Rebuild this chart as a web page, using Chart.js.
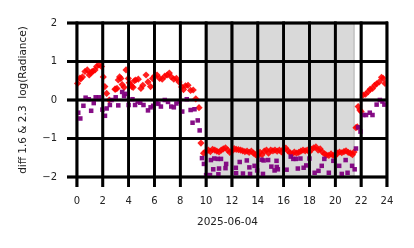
<!DOCTYPE html>
<html>
<head>
<meta charset="utf-8">
<script src="https://cdn.jsdelivr.net/npm/chart.js@4"></script>
<style>
  html, body { margin: 0; padding: 0; background: #fff; }
  #wrap { width: 414px; height: 248px; position: relative; }
</style>
</head>
<body>
<div id="wrap"><canvas id="chart" width="414" height="248"></canvas></div>
<script>
// hours of day, 2025-06-04
const redHours = [0.05,0.23,0.3,0.43,0.62,0.8,0.95,1.05,1.15,1.25,1.4,1.52,1.7,1.9,2.04,2.16,2.3,2.5,2.94,3.0,3.1,3.2,3.3,3.4,3.5,3.65,3.8,3.98,4.05,4.15,4.25,4.35,4.45,4.55,4.75,4.95,5.1,5.35,5.5,5.7,5.85,6.0,6.2,6.4,6.6,6.8,6.98,7.15,7.3,7.5,7.7,7.9,8.1,8.25,8.4,8.6,8.8,9.0,9.2,9.45,9.6,9.8,
  10.0,10.17,10.33,10.5,10.67,10.83,11.0,11.17,11.33,11.5,11.67,11.83,12.0,12.17,12.33,12.5,12.67,12.83,13.0,13.17,13.33,13.5,13.67,13.83,14.0,14.17,14.33,14.5,14.67,14.83,15.0,15.17,15.33,15.5,15.67,15.83,16.0,16.17,16.33,16.5,16.67,16.83,17.0,17.17,17.33,17.5,17.67,17.83,18.0,18.17,18.33,18.5,18.67,18.83,19.0,19.17,19.33,19.5,19.67,19.83,20.0,20.17,20.33,20.5,20.67,20.83,21.0,21.17,21.33,21.45,
  21.6,21.7,21.77,21.9,22.0,22.16,22.34,22.55,22.7,22.88,23.05,23.2,23.4,23.58,23.7,23.85];
const redValues = [0.43,0.57,0.55,0.6,0.74,0.78,0.65,0.7,0.73,0.75,0.78,0.87,0.91,0.87,0.6,0.35,0.17,0.0,0.28,0.28,0.3,0.52,0.6,0.56,0.4,0.33,0.78,0.56,0.45,0.4,0.35,0.33,0.5,0.52,0.54,0.3,0.38,0.65,0.47,0.35,0.56,0.62,0.65,0.56,0.54,0.62,0.65,0.7,0.6,0.54,0.56,0.47,0.34,0.27,0.37,0.38,0.25,0.26,0.03,-0.2,-1.12,-1.38,
  -1.33,-1.3,-1.34,-1.28,-1.3,-1.33,-1.35,-1.3,-1.27,-1.24,-1.3,-1.36,-1.33,-1.26,-1.28,-1.29,-1.3,-1.32,-1.34,-1.33,-1.36,-1.33,-1.38,-1.42,-1.45,-1.36,-1.42,-1.33,-1.3,-1.38,-1.3,-1.32,-1.3,-1.33,-1.3,-1.35,-1.27,-1.25,-1.32,-1.37,-1.4,-1.35,-1.38,-1.36,-1.33,-1.3,-1.32,-1.3,-1.35,-1.28,-1.24,-1.22,-1.3,-1.27,-1.35,-1.4,-1.43,-1.44,-1.4,-1.44,-1.45,-1.38,-1.35,-1.37,-1.34,-1.32,-1.36,-1.38,-1.42,-1.35,
  -0.72,-0.7,-0.17,-0.26,-0.3,0.13,0.15,0.22,0.28,0.3,0.38,0.42,0.47,0.59,0.56,0.43];

const purpleHours = [0.1,0.26,0.5,0.67,0.92,1.1,1.3,1.45,1.7,1.97,2.17,2.3,2.55,2.68,3.0,3.2,3.5,3.65,3.8,4.0,4.3,4.5,4.7,4.9,5.15,5.5,5.7,5.9,6.15,6.3,6.5,6.8,7.05,7.3,7.5,7.7,7.95,8.15,8.5,8.8,8.95,9.1,9.35,9.5,9.68,9.83,10.0,
  10.3,10.37,10.55,10.63,10.9,10.95,11.0,11.15,11.5,11.55,12.3,12.32,12.6,12.85,13.15,13.35,13.4,13.75,13.95,14.3,14.4,14.45,14.8,15.05,15.3,15.45,15.47,15.55,16.23,16.55,16.75,16.95,17.1,17.3,17.55,17.75,18.0,18.4,18.7,18.95,19.15,19.5,19.85,20.3,20.5,20.8,20.95,21.3,21.5,
  21.6,21.77,21.95,22.17,22.38,22.67,22.88,23.2,23.45,23.65,23.8];
const purpleValues = [-0.33,-0.48,-0.15,0.06,0.02,-0.28,-0.08,0.07,0.07,-0.25,-0.41,-0.22,-0.13,0.0,0.07,-0.14,0.21,0.1,0.16,-0.13,0.02,-0.13,-0.04,-0.07,-0.13,-0.27,-0.19,-0.15,-0.07,-0.1,-0.17,0.0,-0.05,-0.17,-0.19,-0.09,-0.04,-0.3,0.02,-0.26,-0.59,-0.24,-0.53,-0.79,-1.51,-1.66,-1.95,
  -1.95,-1.56,-1.8,-1.52,-1.53,-1.93,-1.78,-1.53,-1.77,-1.66,-1.76,-1.9,-1.61,-1.91,-1.57,-1.75,-1.92,-1.71,-1.83,-1.55,-1.92,-1.57,-1.56,-1.73,-1.83,-1.58,-1.74,-1.8,-1.81,-1.47,-1.53,-1.53,-1.78,-1.52,-1.76,-1.7,-1.52,-1.89,-1.84,-1.71,-1.53,-1.89,-1.58,-1.71,-1.92,-1.56,-1.89,-1.71,-1.8,
  -1.26,-0.71,-0.82,-0.39,-0.39,-0.33,-0.39,-0.12,0.0,-0.04,-0.12];

const xTicks = [0,2,4,6,8,10,12,14,16,18,20,22,24];
const yTicks = [-2,-1,0,1,2];
const nightStart = 10.0;
const nightEnd = 21.5;

function toPoints(hours, values) {
  return hours.map((h, i) => ({ x: h, y: values[i] }));
}

// heavy black grid, drawn as filled bars at the scale positions
function paintGrid(chart) {
  const c = chart.ctx;
  const area = chart.chartArea;
  const w = 2.7;
  c.save();
  c.globalAlpha = 1;
  c.globalCompositeOperation = "source-over";
  c.fillStyle = "#000";
  xTicks.forEach((v) => {
    const px = chart.scales.x.getPixelForValue(v);
    c.fillRect(px - w / 2, area.top - w / 2, w, area.bottom - area.top + w / 2 + 10);
  });
  yTicks.forEach((v) => {
    const py = chart.scales.y.getPixelForValue(v);
    c.fillRect(area.left, py - w / 2, area.right - area.left, w);
  });
  c.restore();
}

// gray span for the night hours, grid over it
const nightShade = {
  id: "nightShade",
  beforeDraw(chart) {
    const c = chart.ctx;
    const area = chart.chartArea;
    const x0 = chart.scales.x.getPixelForValue(nightStart);
    const x1 = chart.scales.x.getPixelForValue(nightEnd);
    c.save();
    c.fillStyle = "#d9d9d9";
    c.fillRect(x0, area.top, x1 - x0, area.bottom - area.top);
    c.fillStyle = "#c4c4c4";
    c.fillRect(x1 - 1.5, area.top, 1.5, area.bottom - area.top);
    c.restore();
    paintGrid(chart);
  },
  afterDraw(chart) {
    paintGrid(chart);
  },
};

new Chart(document.getElementById("chart").getContext("2d"), {
  type: "scatter",
  data: {
    datasets: [
      {
        label: "purple",
        data: toPoints(purpleHours, purpleValues),
        pointStyle: "rect",
        pointRadius: 3.2,
        pointBorderWidth: 0,
        backgroundColor: "rgba(128,0,128,0.95)",
        borderColor: "rgba(128,0,128,0.95)",
        borderWidth: 0,
      },
      {
        label: "red",
        data: toPoints(redHours, redValues),
        pointStyle: "rectRot",
        pointRadius: 3.6,
        pointBorderWidth: 0,
        backgroundColor: "rgba(255,0,0,0.88)",
        borderColor: "rgba(255,0,0,0.88)",
        borderWidth: 0,
      },
    ],
  },
  options: {
    responsive: false,
    animation: false,
    layout: { padding: { top: 23, right: 26, left: 0, bottom: 0 } },
    plugins: { legend: { display: false }, tooltip: { enabled: false } },
    scales: {
      x: {
        type: "linear",
        min: -0.77,
        max: 24.08,
        border: { display: false },
        grid: { display: true, color: "rgba(0,0,0,0)", drawTicks: true, tickLength: 10, tickColor: "rgba(0,0,0,0)" },
        afterBuildTicks: (scale) => { scale.ticks = xTicks.map((v) => ({ value: v })); },
        afterFit: (scale) => { scale.height = 71; },
        ticks: { color: "#222", font: { family: "DejaVu Sans", size: 10 }, padding: 8, maxRotation: 0 },
        title: {
          display: true,
          text: "2025-06-04",
          color: "#222",
          font: { family: "DejaVu Sans", size: 10.5 },
          padding: { top: 0, bottom: 19 },
        },
      },
      y: {
        min: -2,
        max: 2,
        border: { display: false },
        grid: { display: true, color: "rgba(0,0,0,0)", drawTicks: false },
        afterBuildTicks: (scale) => { scale.ticks = yTicks.map((v) => ({ value: v })); },
        afterFit: (scale) => { scale.width = 67; },
        ticks: {
          color: "#222",
          font: { family: "DejaVu Sans", size: 10 },
          padding: 10,
          callback: (v) => (v < 0 ? "\u2212" + Math.abs(v) : String(v)),
        },
        title: {
          display: true,
          text: "diff 1.6 & 2.3  log(Radiance)",
          color: "#222",
          font: { family: "DejaVu Sans", size: 10.5 },
          padding: { top: 17, bottom: 0 },
        },
      },
    },
  },
  plugins: [nightShade],
});
</script>
</body>
</html>
